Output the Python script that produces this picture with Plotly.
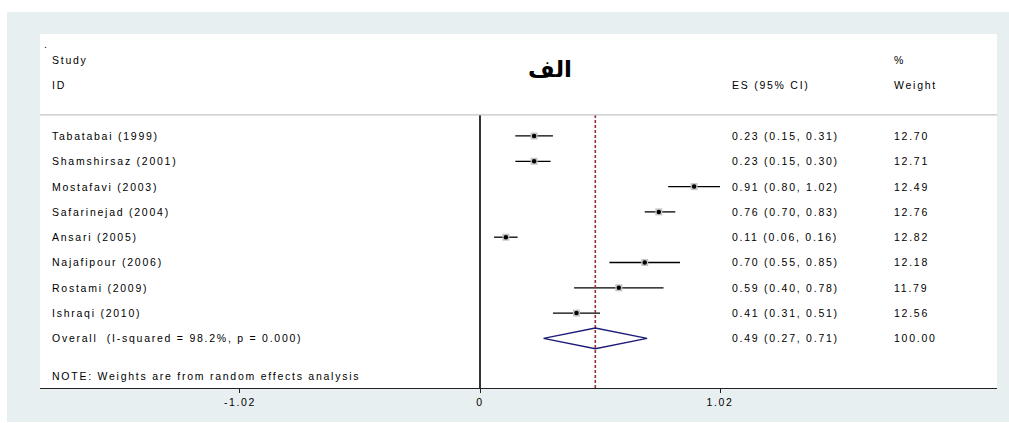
import plotly.graph_objects as go

studies = ["Tabatabai (1999)", "Shamshirsaz (2001)", "Mostafavi (2003)", "Safarinejad (2004)",
           "Ansari (2005)", "Najafipour (2006)", "Rostami (2009)", "Ishraqi (2010)"]
es = [0.23, 0.23, 0.91, 0.76, 0.11, 0.70, 0.59, 0.41]
ci_low = [0.15, 0.15, 0.80, 0.70, 0.06, 0.55, 0.40, 0.31]
ci_high = [0.31, 0.30, 1.02, 0.83, 0.16, 0.85, 0.78, 0.51]
weights = ["12.70", "12.71", "12.49", "12.76", "12.82", "12.18", "11.79", "12.56"]

overall_label = "Overall  (I-squared = 98.2%, p = 0.000)"
overall_es = 0.49
overall_low = 0.27
overall_high = 0.71
overall_weight = "100.00"

tick_vals = [-1.02, 0, 1.02]
tick_text = ["-1.02", "0", "1.02"]

# row index positions (0 = header "Study")
rows = list(range(3, 3 + len(studies)))
overall_row = rows[-1] + 1
note_row = overall_row + 1.5
sep_row = 2.17
y_top, y_bottom = -1.03, 12.96

FONT = "Liberation Sans, Arial, sans-serif"
LS = 1.75
def sp(t, ls=LS):
    return f'<span style="letter-spacing:{ls}px">{t}</span>'

W, H = 1009, 423

fig = go.Figure()

for r, lo, hi in zip(rows, ci_low, ci_high):
    fig.add_trace(go.Scatter(x=[lo, hi], y=[r, r], mode="lines",
                             line=dict(color="black", width=1.3), hoverinfo="skip", showlegend=False))
fig.add_trace(go.Scatter(x=es, y=rows, mode="markers",
                         marker=dict(symbol="square", size=7, color="#c4c4c4", line=dict(width=0)),
                         hoverinfo="skip", showlegend=False))
fig.add_trace(go.Scatter(x=es, y=rows, mode="markers",
                         marker=dict(symbol="circle", size=4.5, color="black"),
                         hoverinfo="skip", showlegend=False))
fig.add_trace(go.Scatter(x=[0, 0], y=[sep_row, y_bottom], mode="lines",
                         line=dict(color="black", width=1.6), hoverinfo="skip", showlegend=False))
fig.add_trace(go.Scatter(x=[overall_es, overall_es], y=[sep_row, y_bottom], mode="lines",
                         line=dict(color="#9a2e35", width=1.6, dash="3px,2px"), hoverinfo="skip", showlegend=False))
dh = 0.41
fig.add_trace(go.Scatter(x=[overall_low, overall_es, overall_high, overall_es, overall_low],
                         y=[overall_row, overall_row - dh, overall_row, overall_row + dh, overall_row],
                         mode="lines", line=dict(color="#1c1c78", width=1.4),
                         hoverinfo="skip", showlegend=False))

# page-pixel geometry of the plot area
L, R, T, B = 40, 997, 34, 388
def px_x(p):
    return (p - L) / (R - L)
def px_y(p):
    return (B - p) / (B - T)

shapes = [
    dict(type="rect", xref="paper", yref="paper", x0=px_x(7), x1=px_x(1010), y0=px_y(422), y1=px_y(12),
         fillcolor="#e8eff1", line=dict(width=0), layer="below"),
    dict(type="rect", xref="paper", yref="paper", x0=0, x1=1, y0=0, y1=1,
         fillcolor="white", line=dict(width=0), layer="below"),
    dict(type="line", xref="paper", yref="y", x0=0, x1=1, y0=sep_row, y1=sep_row,
         line=dict(color="#c4c4c4", width=1.2)),
]

ann = []
def txt(x, y, t, size=10.5, xanchor="left"):
    ann.append(dict(x=x, y=y, xref="paper", yref="y", text=sp(t), showarrow=False,
                    xanchor=xanchor, yanchor="middle",
                    font=dict(family=FONT, size=size, color="black")))

cx_study = px_x(50)
cx_es = px_x(730)
cx_w = px_x(892)

txt(px_x(42), -0.65, ".")
txt(cx_study, 0, "Study")
txt(cx_study, 1, "ID")
txt(cx_es, 1, "ES (95% CI)")
txt(cx_w, 0, "%")
txt(cx_w, 1, "Weight")
for r, s, e, lo, hi, w in zip(rows, studies, es, ci_low, ci_high, weights):
    txt(cx_study, r, s)
    txt(cx_es, r, f"{e:.2f} ({lo:.2f}, {hi:.2f})")
    txt(cx_w, r, w)
txt(cx_study, overall_row, overall_label)
txt(cx_es, overall_row, f"{overall_es:.2f} ({overall_low:.2f}, {overall_high:.2f})")
txt(cx_w, overall_row, overall_weight)
txt(cx_study, note_row, "NOTE: Weights are from random effects analysis")

ann.append(dict(x=px_x(550), y=0.35, xref="paper", yref="y", text="<b>الف</b>", showarrow=False,
                xanchor="center", yanchor="middle",
                font=dict(family="DejaVu Sans", size=23, color="black")))

fig.update_layout(
    width=W, height=H, autosize=False,
    margin=dict(l=L, r=W - R, t=T, b=H - B, pad=0),
    paper_bgcolor="white", plot_bgcolor="white",
    shapes=shapes, annotations=ann, showlegend=False,
    xaxis=dict(range=[(L - 480) / 235.3, (R - 480) / 235.3], tickvals=tick_vals,
               ticktext=[sp(t, 1.6) for t in tick_text],
               showgrid=False, zeroline=False, showline=True, linecolor="#222", linewidth=1.2,
               ticks="outside", ticklen=4, tickcolor="#222", tickwidth=1.2,
               tickfont=dict(family=FONT, size=10.5, color="black"), fixedrange=True),
    yaxis=dict(range=[y_bottom, y_top], visible=False, fixedrange=True),
)

fig.write_html("out.html", config={"displayModeBar": False},
               post_script="document.body.style.margin='0';document.documentElement.style.overflow='hidden';")
